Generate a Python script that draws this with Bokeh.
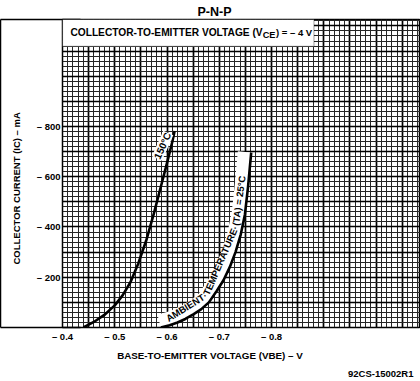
import numpy as np
from bokeh.plotting import figure
from bokeh.models import Range1d, FixedTicker, Label, BoxAnnotation, LinearAxis, Title
from bokeh.embed import file_html
from bokeh.resources import INLINE

# ---------------- data ----------------
vbe_150 = [-0.440, -0.460, -0.480, -0.500, -0.515, -0.530, -0.545, -0.560, -0.575, -0.590, -0.600, -0.610, -0.6145]
ic_150 = [0, -22, -50, -88, -128, -180, -255, -345, -455, -575, -655, -738, -782]

vbe_25 = [-0.588, -0.605, -0.620, -0.635, -0.651, -0.665, -0.680, -0.695, -0.708, -0.720, -0.731, -0.741, -0.749, -0.755, -0.761]
ic_25 = [0, -9, -20, -34, -53, -72, -100, -145, -188, -240, -300, -370, -450, -560, -696]

x_tick_values = [-0.4, -0.5, -0.6, -0.7, -0.8]
x_tick_labels = ["\u2013 0.4", "\u2013 0.5", "\u2013 0.6", "\u2013 0.7", "\u2013 0.8"]
y_tick_values = [-200, -400, -600, -800]
y_tick_labels = ["\u2013 200", "\u2013 400", "\u2013 600", "\u2013 800"]

title_text = "P-N-P"
x_title = "BASE-TO-EMITTER VOLTAGE (VBE) \u2013 V"
y_title = "COLLECTOR CURRENT (IC) \u2013 mA"
footer_text = "92CS-15002R1"
curve_150_label = "150\u00b0C"
curve_25_words = ["AMBIENT\u00b7", "TEMPERATURE\u00b7", "(TA) = 25\u00b0C"]

# ---------------- geometry / style ----------------
W, H = 420, 381
FL, FR, FT, FB = 57, 420, 19, 330          # frame edges (px)
PX_PER_V = 530.0
PX_PER_MA = 50.75 / 200.0
X0, X1 = -0.4, -0.4 - (FR - FL) / PX_PER_V
Y0, Y1 = 0.0, -(FB - FT) / PX_PER_MA
FONT = "Liberation Sans"

def v_at(px):
    return X0 - (px - FL) / PX_PER_V

def i_at(py):
    return (py - FB) / PX_PER_MA

p = figure(width=W, height=H, x_range=Range1d(X0, X1), y_range=Range1d(Y0, Y1),
           output_backend="svg", toolbar_location=None,
           min_border_left=FL, min_border_right=W - FR, min_border_top=FT,
           min_border_bottom=H - FB)
p.background_fill_color = "white"
p.border_fill_color = "white"
p.outline_line_color = "black"
p.outline_line_width = 1.5

def bold_text(ax, size):
    ax.major_label_text_font = FONT
    ax.major_label_text_font_style = "bold"
    ax.major_label_text_font_size = size
    ax.major_label_text_color = "black"

def bare(ax):
    ax.axis_line_color = None
    ax.major_tick_line_color = None
    ax.minor_tick_line_color = None
    ax.major_tick_out = 0
    ax.major_tick_in = 0
    ax.minor_tick_out = 0
    ax.minor_tick_in = 0

# tick-label axes
xa, ya = p.xaxis[0], p.yaxis[0]
xa.ticker = FixedTicker(ticks=x_tick_values)
xa.major_label_overrides = dict(zip(x_tick_values, x_tick_labels))
ya.ticker = FixedTicker(ticks=y_tick_values)
ya.major_label_overrides = dict(zip(y_tick_values, y_tick_labels))
for ax in (xa, ya):
    bare(ax)
    bold_text(ax, "9.5px")
xa.major_label_standoff = 3
ya.major_label_standoff = 2

# axis titles as single-tick axes (so they can be placed along the axis)
y_title_pos = i_at(189.5)
yt = LinearAxis(ticker=FixedTicker(ticks=[y_title_pos]),
                major_label_overrides={y_title_pos: y_title},
                major_label_orientation="vertical")
bare(yt)
bold_text(yt, "9.5px")
yt.major_label_standoff = 11
yt.axis_label = "\u00a0"
yt.axis_label_text_font_size = "2px"
yt.axis_label_standoff = 3
p.add_layout(yt, "left")

# outer box line enclosing the y-axis area
yb = LinearAxis(ticker=FixedTicker(ticks=[Y0, Y1 + 0.5]),
                major_label_overrides={Y0: "", Y1 + 0.5: ""})
yb.axis_line_color = "black"
yb.axis_line_width = 1.5
yb.major_tick_line_color = "black"
yb.major_tick_line_width = 1.5
yb.major_tick_in = 80
yb.major_tick_out = 0
yb.minor_tick_line_color = None
yb.minor_tick_in = 0
yb.minor_tick_out = 0
yb.major_label_standoff = 0
yb.major_label_text_alpha = 0
yb.major_label_text_font_size = "1px"
p.add_layout(yb, "left")

x_title_pos = v_at(206.5)
xt = LinearAxis(ticker=FixedTicker(ticks=[x_title_pos]),
                major_label_overrides={x_title_pos: x_title})
bare(xt)
bold_text(xt, "9.8px")
xt.major_label_standoff = 5
p.add_layout(xt, "below")

# title and footer
p.title = Title(text=title_text, align="left", offset=135, standoff=1,
                text_font=FONT, text_font_style="bold", text_font_size="12.5px",
                text_color="black")
p.add_layout(Title(text=footer_text, align="right", offset=7, standoff=5,
                   text_font=FONT, text_font_style="bold", text_font_size="9.5px",
                   text_color="black"), "below")

# graph-paper grid
x_major_grid = list(np.round(np.arange(-0.40, -1.101, -0.05), 3))
x_minor_grid = list(np.round(np.arange(-0.40, -1.101, -0.01), 3))
y_major_grid = list(np.arange(0, -1301, -100))
y_minor_grid = list(np.arange(0, -1301, -20))
p.xgrid.ticker = FixedTicker(ticks=x_major_grid, minor_ticks=x_minor_grid)
p.ygrid.ticker = FixedTicker(ticks=y_major_grid, minor_ticks=y_minor_grid)
for g in (p.xgrid[0], p.ygrid[0]):
    g.grid_line_color = "black"
    g.grid_line_width = 1.7
    g.grid_line_alpha = 1.0
    g.minor_grid_line_color = "#262626"
    g.minor_grid_line_width = 1.0

# 150 C curve
p.line(vbe_150, ic_150, line_color="black", line_width=2.6, line_join="round")

# 25 C curve with white label band (offset toward upper-left in screen space)
sx = FL + (X0 - np.array(vbe_25)) * PX_PER_V
sy = FB + np.array(ic_25) * PX_PER_MA
tx, ty = np.gradient(sx), np.gradient(sy)
nrm = np.hypot(tx, ty)
OFF = 7.0
bx = sx + ty / nrm * OFF
by = sy - tx / nrm * OFF
p.line([v_at(v) for v in bx], [i_at(v) for v in by], line_color="white",
       line_width=13, line_cap="butt", line_join="round")
p.line(vbe_25, ic_25, line_color="black", line_width=2.6, line_join="round")

def lab(x, y, text, size="10px", angle=0.0, align="left", bg=None):
    L = Label(x=x, y=y, text=text, angle=angle, angle_units="deg",
              text_font=FONT, text_font_style="bold", text_font_size=size,
              text_align=align, text_baseline="middle", text_color="black")
    if bg:
        L.background_fill_color = bg
    p.add_layout(L)

# text set along the band
CW = {"A": .722, "M": .833, "B": .722, "I": .278, "E": .667, "N": .722, "T": .611,
      "P": .667, "R": .722, "U": .722, "C": .722, "(": .333, ")": .333, " ": .278,
      "=": .584, "2": .556, "5": .556, "\u00b0": .4, "\u00b7": .278}
BAND_FS = 9.5
bs = np.concatenate([[0.0], np.cumsum(np.hypot(np.diff(bx), np.diff(by)))])
s = 9.0
for word in curve_25_words:
    w = sum(CW.get(c, .6) for c in word) * BAND_FS
    x0, y0 = np.interp(s, bs, bx), np.interp(s, bs, by)
    x1, y1 = np.interp(s + w, bs, bx), np.interp(s + w, bs, by)
    ang = np.degrees(np.arctan2(-(y1 - y0), x1 - x0))
    lab(v_at((x0 + x1) / 2), i_at((y0 + y1) / 2), word, size=f"{BAND_FS}px",
        angle=float(ang), align="center")
    s += w + 1.0

lab(v_at(158.5), i_at(146.5), curve_150_label, size="10px", angle=66, align="center", bg="white")

# inset condition box
p.add_layout(BoxAnnotation(left=X0, right=v_at(312), bottom=i_at(46), top=Y1,
                           fill_color="white", fill_alpha=1.0,
                           line_color="black", line_width=1.2))
lab(v_at(65), i_at(32), "COLLECTOR-TO-EMITTER VOLTAGE (V", size="10.2px")
lab(v_at(260), i_at(35), "CE", size="9.2px")
lab(v_at(273.5), i_at(32), ") = \u2013 4 V", size="9.5px")

open("out.html", "w").write(file_html(p, INLINE))
